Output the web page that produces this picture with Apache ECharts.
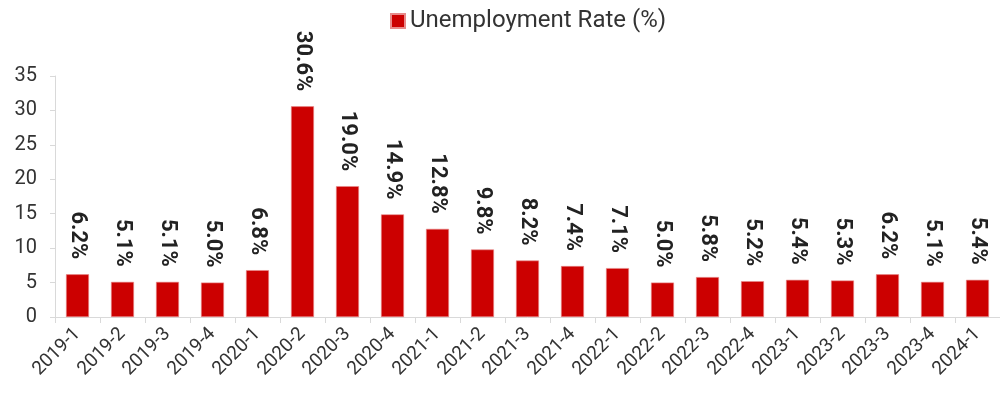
<!DOCTYPE html>
<html><head><meta charset="utf-8">
<script src="https://cdn.jsdelivr.net/npm/echarts@6/dist/echarts.min.js"></script>
<style>html,body{margin:0;padding:0;background:#fff}#c{width:1000px;height:393px}</style>
</head><body><div id="c"></div>
<script>
const categories = ["2019-1","2019-2","2019-3","2019-4","2020-1","2020-2","2020-3","2020-4","2021-1","2021-2","2021-3","2021-4","2022-1","2022-2","2022-3","2022-4","2023-1","2023-2","2023-3","2023-4","2024-1"];
const unemployment = [6.2,5.1,5.1,5.0,6.8,30.6,19.0,14.9,12.8,9.8,8.2,7.4,7.1,5.0,5.8,5.2,5.4,5.3,6.2,5.1,5.4];
const yTicks = {min:0, max:35, interval:5};
const chart = echarts.init(document.getElementById('c'));
chart.setOption({
  animation:false,
  textStyle:{fontFamily:'Roboto'},
  legend:{top:4, left:385, itemWidth:14, itemHeight:14, itemGap:8, icon:'rect',
    textStyle:{fontSize:24, color:'#333', fontFamily:'Roboto'}},
  grid:{left:55, right:-7, top:76, bottom:76, containLabel:false},
  xAxis:{type:'category', data:categories,
    axisLine:{lineStyle:{color:'#d9d9d9'}},
    axisTick:{show:true, length:6, lineStyle:{color:'#d9d9d9'}},
    axisLabel:{rotate:45, fontSize:19, color:'#333', margin:14, interval:0}},
  yAxis:{type:'value', min:yTicks.min, max:yTicks.max, interval:yTicks.interval,
    axisLine:{show:true, lineStyle:{color:'#d9d9d9'}},
    axisTick:{show:true, length:5, lineStyle:{color:'#d9d9d9'}},
    splitLine:{show:false},
    axisLabel:{fontSize:20, color:'#333', margin:18}},
  series:[{name:'Unemployment Rate (%)', type:'bar', data:unemployment, barWidth:'51%',
    itemStyle:{color:'#cc0000', borderColor:'#e88a8a', borderWidth:0.6},
    label:{show:true, position:'top', rotate:-90, align:'right', verticalAlign:'middle', distance:15,
      fontSize:22, fontWeight:'bold', color:'#222', formatter:p=>p.value.toFixed(1)+'%'}}]
});
</script></body></html>
